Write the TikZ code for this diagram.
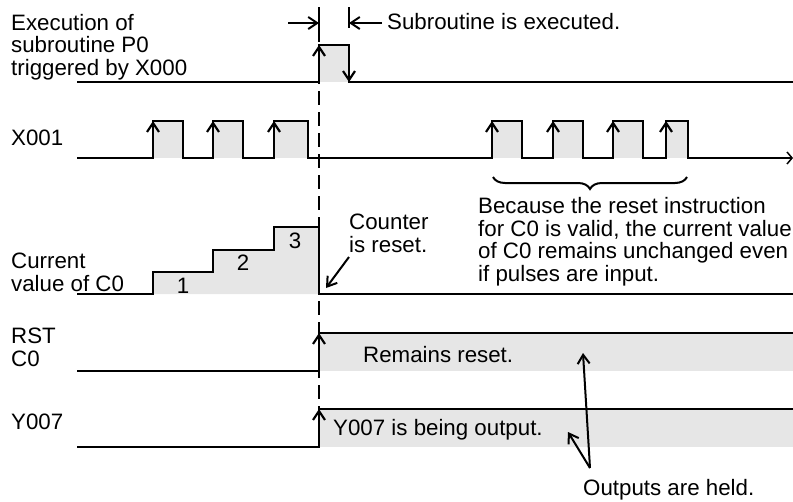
\documentclass[tikz,border=0pt]{standalone}
\usepackage{fontspec}
\setmainfont{Liberation Sans}
\usetikzlibrary{arrows.meta,decorations.pathreplacing}
\definecolor{pulsegray}{RGB}{230,230,230}
\tikzset{
  wave/.style={line width=2.8pt, line join=miter},
  fillpulse/.style={fill=pulsegray, draw=none},
  upbarb/.style={line width=2.2pt, -{Straight Barb[length=9pt,width=12pt,line width=2.2pt]}},
  thinarrow/.style={line width=2pt, -{Straight Barb[length=9pt,width=12pt,line width=2pt]}},
  lbl/.style={font=\fontsize{22.3}{22.5}\selectfont, inner sep=0pt, anchor=base west, align=left},
  num/.style={font=\fontsize{22.3}{22.5}\selectfont, inner sep=0pt},
}
\begin{document}
\begin{tikzpicture}[x=1pt,y=-1pt]
\useasboundingbox (0,0) rectangle (793,501);

% ---------- fills ----------
\fill[fillpulse] (319,45) rectangle (349,82);
\foreach \a/\b in {153/183,213/243,274/308,492/522,553/583,613/643,666/688}
  \fill[fillpulse] (\a,121) rectangle (\b,158);
\fill[fillpulse] (153,294) -- (153,272) -- (213,272) -- (213,250) -- (274,250) -- (274,227) -- (319,227) -- (319,294) -- cycle;
\fill[fillpulse] (319,333) rectangle (793,371);
\fill[fillpulse] (319,409) rectangle (793,447);

% ---------- dashed reference line ----------
\draw[line width=2.4pt, dash pattern=on 14pt off 7pt] (319,28) -- (319,409);

% ---------- P0 ----------
\draw[wave] (77,82) -- (319,82) -- (319,45) -- (349,45) -- (349,82) -- (793,82);
\draw[upbarb] (319,62) -- (319,45);
\draw[upbarb] (349,65) -- (349,82);
% dimension
\draw[line width=2.2pt] (319,7) -- (319,28);
\draw[line width=2.2pt] (349,7) -- (349,28);
\coordinate (dimL) at (288,23);
\coordinate (dimR) at (382,23);
\coordinate (tL) at (319,23);
\coordinate (tR) at (349,23);
\draw[thinarrow] (dimL) -- (tL);
\draw[thinarrow] (dimR) -- (tR);
\node[lbl, anchor=west] (subex) at (387,22) {Subroutine is executed.};

% ---------- X001 ----------
\draw[wave] (77,158) -- (153,158) -- (153,121) -- (183,121) -- (183,158)
  -- (213,158) -- (213,121) -- (243,121) -- (243,158)
  -- (274,158) -- (274,121) -- (308,121) -- (308,158)
  -- (492,158) -- (492,121) -- (522,121) -- (522,158)
  -- (553,158) -- (553,121) -- (583,121) -- (583,158)
  -- (613,158) -- (613,121) -- (643,121) -- (643,158)
  -- (666,158) -- (666,121) -- (688,121) -- (688,158)
  -- (780,158);
\draw[line width=2.8pt, -{Straight Barb[length=5pt,width=12pt,line width=1.5pt]}] (775,158) -- (793,158);
\foreach \a in {153,213,274,492,553,613,666}
  \draw[upbarb] (\a,138) -- (\a,121);
\draw[line width=2pt, decorate, decoration={brace, mirror, amplitude=12pt}] (493,177) -- (687,177);

% ---------- C0 current value ----------
\draw[wave] (77,294) -- (153,294) -- (153,272) -- (213,272) -- (213,250) -- (274,250) -- (274,227) -- (319,227) -- (319,294) -- (793,294);
\node[num] (n1) at (183,286) {1};
\node[num] (n2) at (243,263) {2};
\node[num] (n3) at (295,241) {3};

% ---------- RST C0 ----------
\draw[wave] (77,371) -- (319,371) -- (319,333) -- (793,333);
\draw[upbarb] (319,350) -- (319,333);
\node[lbl, anchor=west] (remains) at (363,355) {Remains reset.};

% ---------- Y007 ----------
\draw[wave] (77,447) -- (319,447) -- (319,409) -- (793,409);
\draw[upbarb] (319,426) -- (319,409);
\node[lbl, anchor=west] (yout) at (333,430) {Y007 is being output.};

% ---------- left labels (anchor = baseline of last line) ----------
\node[lbl] (lp0) at (11,75) {Execution of\\subroutine P0\\triggered by X000};
\node[lbl, anchor=west] (lx1) at (11,138) {X001};
\node[lbl] (lc0) at (11,291) {Current\\value of C0};
\node[lbl] (lrst) at (11,366) {RST\\C0};
\node[lbl, anchor=west] (ly7) at (11,422) {Y007};

% ---------- annotations ----------
\node[lbl] (cnt) at (349,252) {Counter\\is reset.};
\coordinate (cntA) at (349,257);
\coordinate (cntB) at (326,288);
\draw[thinarrow] (cntA) -- (cntB);

\node[lbl] (because) at (478,281) {Because the reset instruction\\for C0 is valid, the current value\\of C0 remains unchanged even\\if pulses are input.};

\node[lbl, anchor=west] (held) at (583,490) {Outputs are held.};
\coordinate (heldO) at (590,468);
\coordinate (heldA) at (583,353);
\coordinate (heldB) at (568,432);
\draw[thinarrow] (heldO) -- (heldA);
\draw[thinarrow] (heldO) -- (heldB);
\end{tikzpicture}
\end{document}
